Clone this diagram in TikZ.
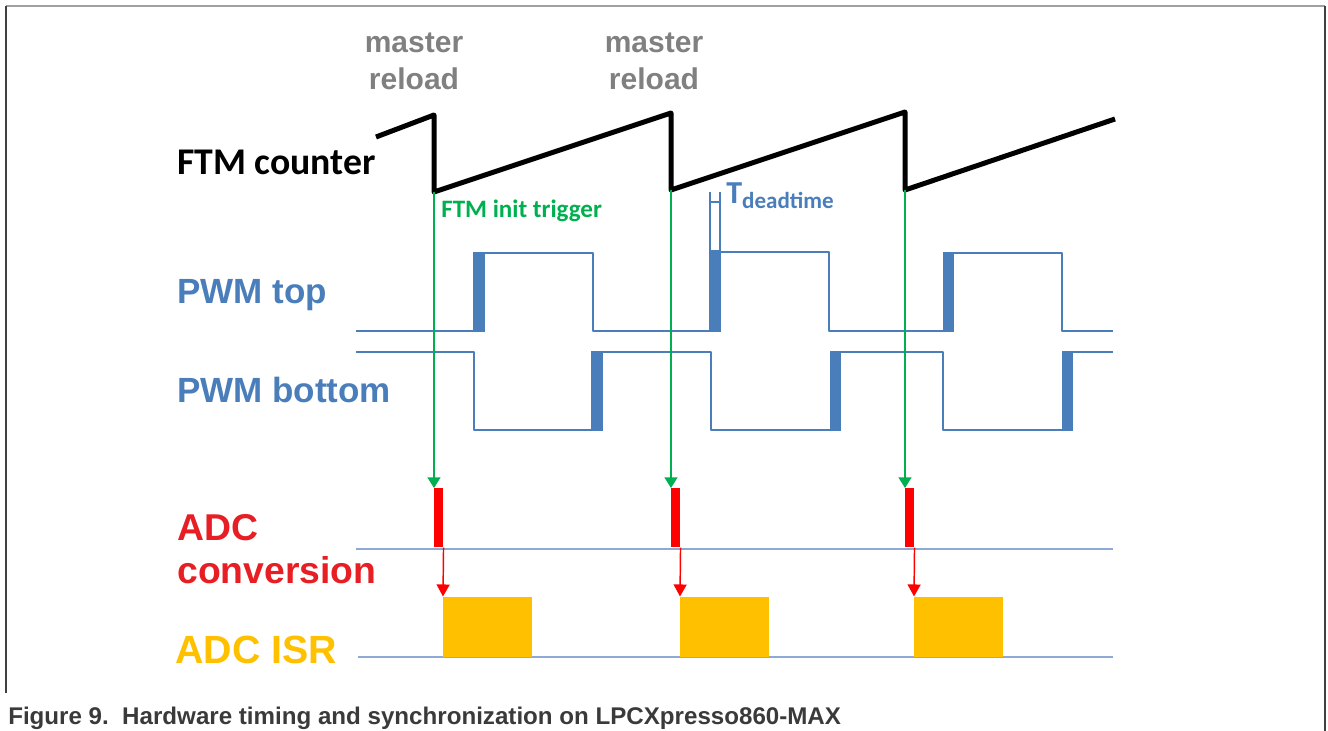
\documentclass[tikz,border=0pt]{standalone}
\usepackage{fontspec}
\setmainfont{Liberation Sans}
\newfontfamily\calib{Carlito}
\usetikzlibrary{arrows.meta}
\definecolor{pwmblue}{HTML}{4A7EBB}
\definecolor{axisblue}{HTML}{8EAAD4}
\definecolor{lblgray}{HTML}{808080}
\definecolor{adcred}{HTML}{E81E25}
\definecolor{barred}{HTML}{FF0000}
\definecolor{isrgold}{HTML}{FFC000}
\definecolor{trig}{HTML}{00B050}
\definecolor{capgray}{HTML}{3A3A3A}
\definecolor{framegray}{HTML}{A0A0A0}
\definecolor{framedark}{HTML}{404040}
\begin{document}
\begin{tikzpicture}[x=0.75pt,y=-0.75pt,
  lbl/.style={anchor=base west, inner sep=0pt, font=\bfseries\fontsize{26.25}{30}\selectfont},
  adclbl/.style={lbl, text=adcred, font=\bfseries\fontsize{28}{32.25}\selectfont},
  reload/.style={anchor=base, inner sep=0pt, align=center, text=lblgray, font=\bfseries\fontsize{22.5}{27.75}\selectfont},
  pwm/.style={draw=pwmblue, line width=2.1pt, line join=round},
  deadbar/.style={fill=pwmblue},
  axisln/.style={draw=axisblue, line width=1.1pt},
  adcbar/.style={fill=barred, draw=none, inner sep=0pt, minimum width=6.75pt, minimum height=44.25pt, anchor=north west},
  isrbox/.style={fill=isrgold, draw=none, inner sep=0pt, minimum width=66.75pt, minimum height=45pt, anchor=south west},
  trigarrow/.style={draw=trig, line width=1.1pt, -{Triangle[width=9.75pt,length=8pt]}},
  adcarrow/.style={draw=barred, line width=1.1pt, -{Triangle[width=9.75pt,length=9pt]}},
  saw/.style={draw=black, line width=3.75pt, line join=round}
]
\useasboundingbox (0,0) rectangle (1328,731);
% frame
\draw[framegray, line width=1.5pt] (6,6) -- (1325,6);
\draw[framedark, line width=1.3pt] (6,6) -- (6,693);
\draw[framedark, line width=1.3pt] (1325,6) -- (1325,731);

% master reload labels
\node[reload] (mr1) at (414,90) {master\\reload};
\node[reload] (mr2) at (654,90) {master\\reload};

% FTM counter
\node[lbl, font=\calib\bfseries\fontsize{28.3}{30}\selectfont] (ftm) at (177,175) {FTM counter};
\coordinate (b1) at (434,192);
\coordinate (b2) at (671,190);
\coordinate (b3) at (905,190);
\draw[saw] (376,137) -- (434,115) -- (b1) -- (671,113) -- (b2) -- (905,112) -- (b3) -- (1115,119);

% trigger label
\node[anchor=base west, inner sep=0pt, text=trig, font=\calib\bfseries\fontsize{18.8}{20}\selectfont] (trg) at (441,218) {FTM init trigger};

% dead time marker
\draw[pwm, line width=1.3pt] (710,192) -- (710,252) (720,192) -- (720,252);
\draw[pwm, line width=2pt] (710,202) -- (720,202);
\node[anchor=base west, inner sep=0pt, text=pwmblue, font=\calib\bfseries\fontsize{24}{26}\selectfont] (td) at (726,204) {T\raisebox{-3.75pt}{\fontsize{17.3}{18}\selectfont deadtime}};

% PWM top
\node[lbl, text=pwmblue] (pwmtop) at (177,303) {PWM top};
\draw[pwm] (356,331) -- (479,331) -- (479,253) -- (593,253) -- (593,331) -- (715,331) -- (715,252) -- (829,252) -- (829,331) -- (948,331) -- (948,253) -- (1062,253) -- (1062,331) -- (1113,331);
\fill[deadbar] (473,252) rectangle (485,332);
\fill[deadbar] (709,250) rectangle (721,332);
\fill[deadbar] (943,252) rectangle (954,332);

% PWM bottom
\node[lbl, text=pwmblue] (pwmbot) at (177,402) {PWM bottom};
\draw[pwm] (356,352) -- (474,352) -- (474,430) -- (597,430) -- (597,352) -- (711,352) -- (711,430) -- (835,430) -- (835,352) -- (943,352) -- (943,430) -- (1067,430) -- (1067,352) -- (1113,352);
\fill[deadbar] (591,351) rectangle (603,431);
\fill[deadbar] (830,351) rectangle (841,431);
\fill[deadbar] (1062,351) rectangle (1073,431);

% ADC conversion
\node[adclbl] (adc1) at (177,540) {ADC};
\node[adclbl] (adc2) at (177,583) {conversion};
\draw[axisln] (356,549) -- (1113,549);
\node[adcbar] (r1) at (434,488) {};
\node[adcbar] (r2) at (671,488) {};
\node[adcbar] (r3) at (905,488) {};

% ADC ISR
\node[lbl, text=isrgold, font=\bfseries\fontsize{29.5}{32}\selectfont] (isr) at (175,663) {ADC ISR};
\draw[axisln] (358,657) -- (1113,657);
\node[isrbox] (y1) at (443,657) {};
\node[isrbox] (y2) at (680,657) {};
\node[isrbox] (y3) at (914,657) {};

% connectors
\draw[trigarrow] (b1) -- (r1.north west);
\draw[trigarrow] (b2) -- (r2.north west);
\draw[trigarrow] (b3) -- (r3.north west);
\draw[adcarrow] (r1.south east) -- (y1.north west);
\draw[adcarrow] (r2.south east) -- (y2.north west);
\draw[adcarrow] (r3.south east) -- (y3.north west);

% caption
\node[anchor=base west, inner sep=0pt, text=capgray, font=\bfseries\fontsize{18.1}{20}\selectfont] (cap) at (8,724) {Figure 9.\ \ Hardware timing and synchronization on LPCXpresso860-MAX};
\end{tikzpicture}
\end{document}
